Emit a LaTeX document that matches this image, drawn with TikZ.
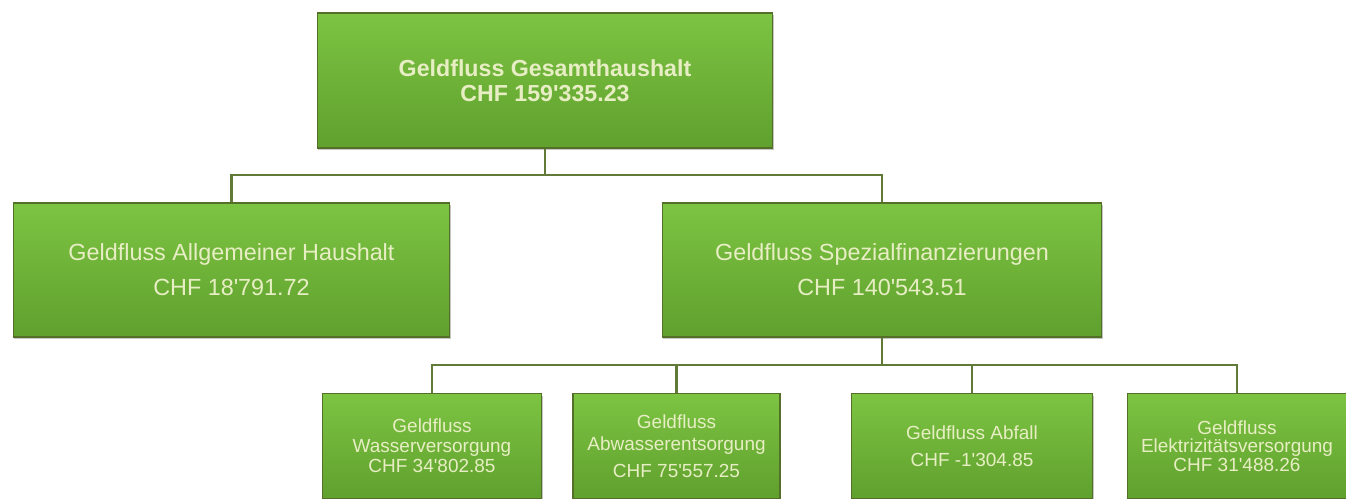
\documentclass[tikz,border=0pt]{standalone}
\usepackage{fontspec}
\setmainfont{Liberation Sans}[Ligatures=TeXOff]
\usetikzlibrary{shadows}
\definecolor{boxtop}{RGB}{124,196,66}
\definecolor{boxbot}{RGB}{96,160,46}
\definecolor{boxline}{RGB}{84,112,40}
\definecolor{linkcol}{RGB}{98,122,56}
\definecolor{txtcol}{RGB}{232,238,196}
\begin{document}
\begin{tikzpicture}[x=0.02cm,y=-0.02cm,
  box/.style={draw=boxline,line width=0.6pt,top color=boxtop,bottom color=boxbot,
    drop shadow={shadow xshift=0.6pt,shadow yshift=-1.2pt,fill=black!45,opacity=0.5},
    text=txtcol,align=center,inner sep=0pt},
  link/.style={draw=linkcol,line width=1.6pt}]
\useasboundingbox (0,0) rectangle (1346,498);
\begin{scope}                       % clip at the page
\clip (0,0) rectangle (1346,498);
\node[box,minimum width=9.12cm,minimum height=2.7cm,font=\fontsize{13.2}{14}\selectfont\bfseries]
  (total) at (545,80.5) {Geldfluss Gesamthaushalt\\CHF 159'335.23};
\node[box,minimum width=8.74cm,minimum height=2.68cm,font=\fontsize{13.3}{14}\selectfont]
  (allg) at (231.5,270) {Geldfluss Allgemeiner Haushalt\\[6pt]CHF 18'791.72};
\node[box,minimum width=8.8cm,minimum height=2.68cm,font=\fontsize{13.3}{14}\selectfont]
  (spez) at (882,270) {Geldfluss Spezialfinanzierungen\\[6pt]CHF 140'543.51};
\node[box,minimum width=4.38cm,minimum height=2.1cm,font=\fontsize{10.8}{11.5}\selectfont]
  (wasser) at (432,446) {Geldfluss\\Wasserversorgung\\CHF 34'802.85};
\node[box,minimum width=4.14cm,minimum height=2.1cm,font=\fontsize{10.8}{11.5}\selectfont]
  (abwasser) at (676.5,446) {Geldfluss\\[1pt]Abwasserentsorgung\\[4pt]CHF 75'557.25};
\node[box,minimum width=4.82cm,minimum height=2.1cm,font=\fontsize{10.8}{11.5}\selectfont]
  (abfall) at (972,446) {Geldfluss Abfall\\[4pt]CHF -1'304.85};
\node[box,minimum width=4.4cm,minimum height=2.1cm,font=\fontsize{10.8}{10.5}\selectfont]
  (strom) at (1237,446) {Geldfluss\\Elektrizitätsversorgung\\CHF 31'488.26};
% connectors
\coordinate (j1) at (545,175);
\coordinate (j2) at (882,365);
\draw[link] (total.south) -- (j1) -| (allg.north);
\draw[link] (j1) -| (spez.north);
\draw[link] (spez.south) -- (j2) -| (wasser.north);
\draw[link] (j2) -| (abwasser.north);
\draw[link] (j2) -| (abfall.north);
\draw[link] (j2) -| (strom.north);
\end{scope}
\end{tikzpicture}
\end{document}
